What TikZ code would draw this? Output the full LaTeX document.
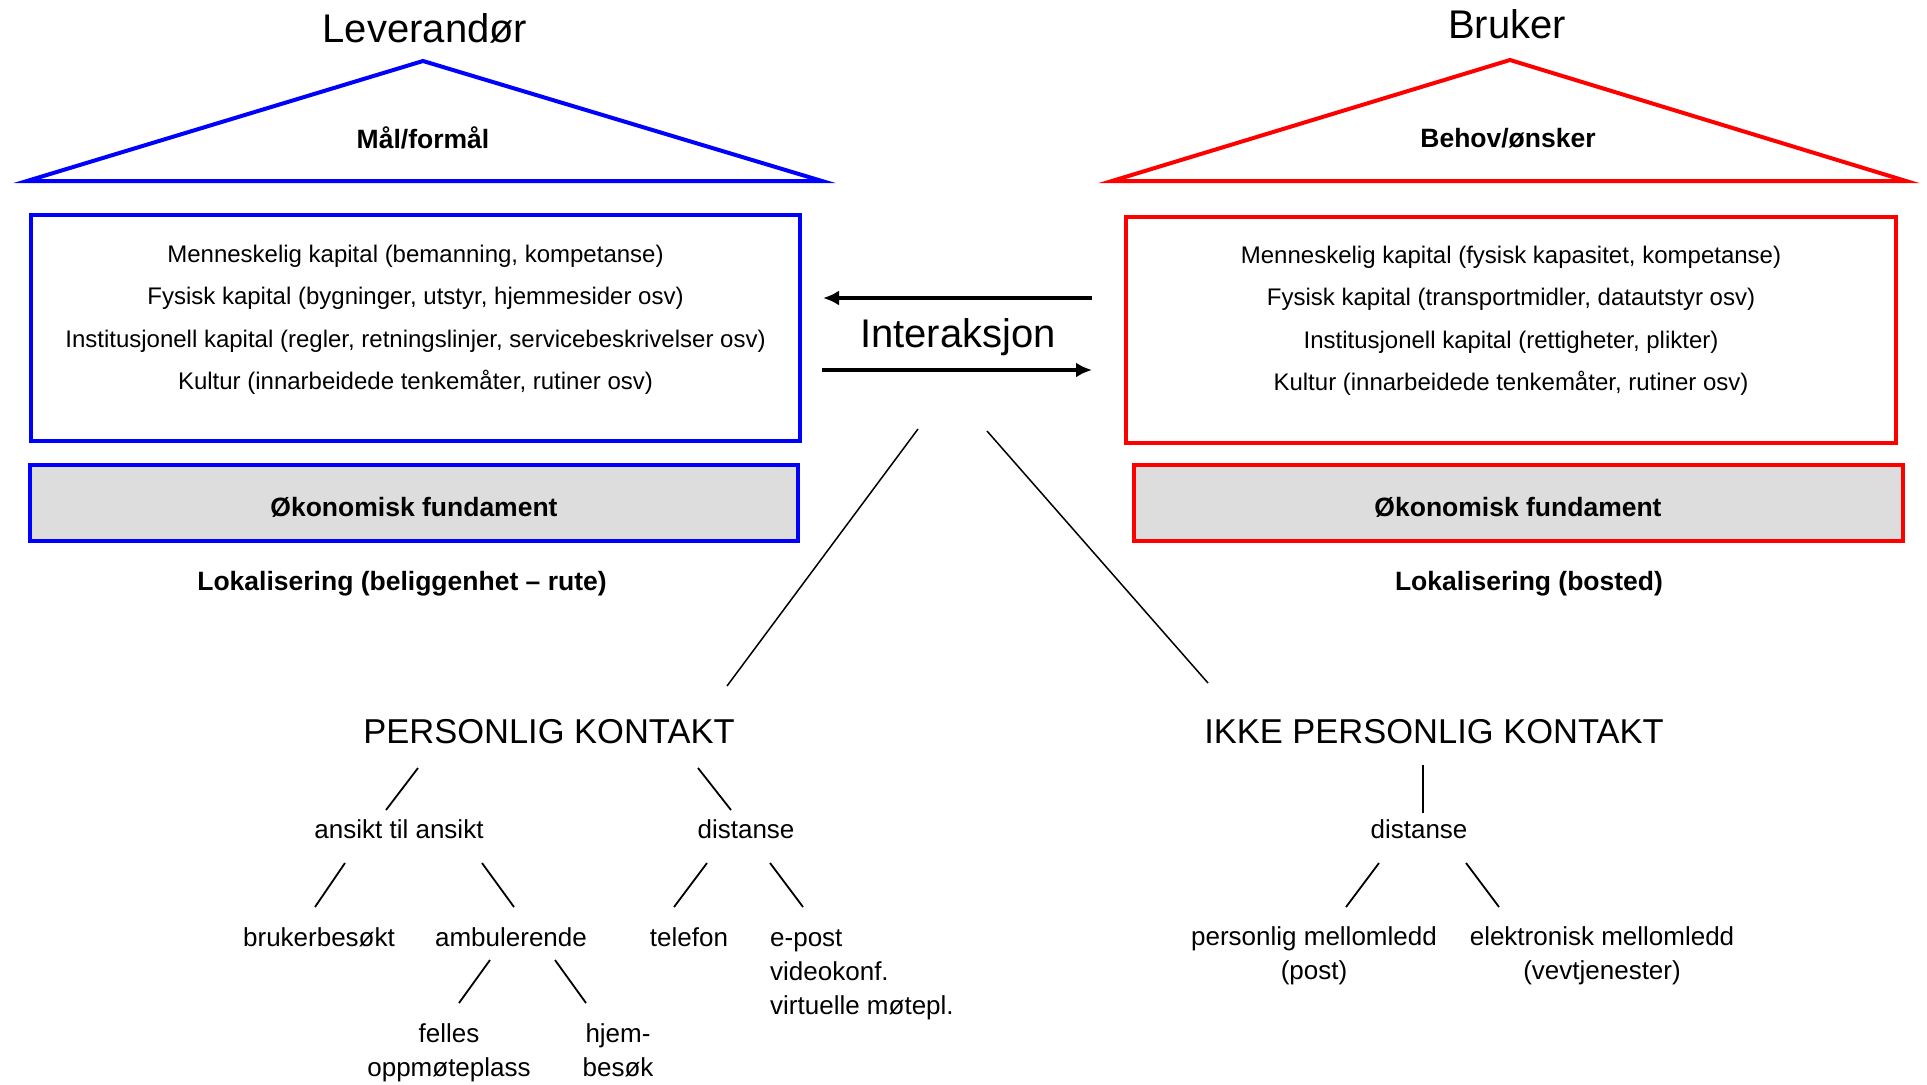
\documentclass[tikz,border=0pt]{standalone}
\usepackage{fontspec}
\setmainfont{Liberation Sans}
\usetikzlibrary{arrows.meta}
\definecolor{levblue}{RGB}{0,0,255}
\definecolor{brured}{RGB}{255,0,0}
\definecolor{fundgrey}{RGB}{221,221,221}
\newcommand{\mlc}[1]{\begin{tabular}[t]{@{}c@{}}#1\end{tabular}}
\newcommand{\mll}[1]{\begin{tabular}[t]{@{}l@{}}#1\end{tabular}}
\begin{document}
\begin{tikzpicture}[x=1pt,y=-1pt,
  txt/.style={inner sep=0pt, anchor=base},
  title/.style={txt, font=\fontsize{40}{48}\selectfont},
  boldlbl/.style={txt, font=\fontsize{26.5}{32}\selectfont\bfseries},
  boxtxt/.style={txt, font=\fontsize{24}{42.5}\selectfont},
  head/.style={txt, font=\fontsize{34.5}{40}\selectfont},
  leaf/.style={txt, font=\fontsize{26}{34}\selectfont},
  roof/.style={line width=4pt, line join=miter},
  capbox/.style={draw, line width=3.5pt, inner sep=0pt},
  fundbox/.style={capbox, fill=fundgrey},
  arrowline/.style={line width=3.5pt, -{Latex[length=16pt,width=15pt]}},
  branch/.style={line width=1.8pt},
  longbranch/.style={line width=1.5pt}
]
\useasboundingbox (0,0) rectangle (1927,1084);

% ---------- Leverandør side ----------
\node[title] (lev) at (425,42) {Leverandør};
\coordinate (lroofL) at (27,181);
\coordinate (lroofT) at (423,61);
\coordinate (lroofR) at (822,181);
\draw[roof, levblue] (lroofL) -- (lroofT) -- (lroofR) -- cycle;
\node[boldlbl] (lmaal) at (423,148) {Mål/formål};
\node[capbox, draw=levblue, minimum width=769pt, minimum height=226pt] (lbox) at (415.5,328) {};
\node[boxtxt] (ltext) at (415.5,262) {\mlc{Menneskelig kapital (bemanning, kompetanse)\\
Fysisk kapital (bygninger, utstyr, hjemmesider osv)\\
Institusjonell kapital (regler, retningslinjer, servicebeskrivelser osv)\\
Kultur (innarbeidede tenkemåter, rutiner osv)}};
\node[fundbox, draw=levblue, minimum width=768pt, minimum height=76pt] (lfund) at (414,503) {};
\node[boldlbl] (lfundt) at (414,516) {Økonomisk fundament};
\node[boldlbl] (lloc) at (402,590) {Lokalisering (beliggenhet – rute)};

% ---------- Bruker side ----------
\node[title] (bru) at (1507,38) {Bruker};
\coordinate (rroofL) at (1112,181);
\coordinate (rroofT) at (1510,60);
\coordinate (rroofR) at (1906,181);
\draw[roof, brured] (rroofL) -- (rroofT) -- (rroofR) -- cycle;
\node[boldlbl] (rbehov) at (1508,147) {Behov/ønsker};
\node[capbox, draw=brured, minimum width=770pt, minimum height=226pt] (rbox) at (1511,330) {};
\node[boxtxt] (rtext) at (1511,263) {\mlc{Menneskelig kapital (fysisk kapasitet, kompetanse)\\
Fysisk kapital (transportmidler, datautstyr osv)\\
Institusjonell kapital (rettigheter, plikter)\\
Kultur (innarbeidede tenkemåter, rutiner osv)}};
\node[fundbox, draw=brured, minimum width=769pt, minimum height=76pt] (rfund) at (1518.5,503) {};
\node[boldlbl] (rfundt) at (1518,516) {Økonomisk fundament};
\node[boldlbl] (rloc) at (1529,590) {Lokalisering (bosted)};

% ---------- Interaksjon ----------
\node[title] (inter) at (958,347) {Interaksjon};
\coordinate (arTopS) at (1092,298);
\coordinate (arTopE) at (823,298);
\coordinate (arBotS) at (822,370);
\coordinate (arBotE) at (1092,370);
\draw[arrowline] (arTopS) -- (arTopE);
\draw[arrowline] (arBotS) -- (arBotE);

\coordinate (dlA) at (918,429);
\coordinate (dlB) at (727,686);
\coordinate (drA) at (987,431);
\coordinate (drB) at (1208,683);
\draw[longbranch] (dlA) -- (dlB);
\draw[longbranch] (drA) -- (drB);

% ---------- Personlig kontakt tree ----------
\node[head] (pk) at (549,743) {PERSONLIG KONTAKT};
\node[leaf] (att) at (399,838) {ansikt til ansikt};
\node[leaf] (dist) at (746,838) {distanse};
\node[leaf] (bb) at (319,946) {brukerbesøkt};
\node[leaf] (amb) at (511,946) {ambulerende};
\node[leaf] (tel) at (689,946) {telefon};
\node[leaf, anchor=base west] (epost) at (770,946) {\mll{e-post\\videokonf.\\virtuelle møtepl.}};
\node[leaf] (felles) at (449,1042) {\mlc{felles\\oppmøteplass}};
\node[leaf] (hjem) at (618,1042) {\mlc{hjem-\\besøk}};

\coordinate (pk1a) at (418,768); \coordinate (pk1b) at (386,810);
\coordinate (pk2a) at (698,768); \coordinate (pk2b) at (731,810);
\coordinate (at1a) at (345,863); \coordinate (at1b) at (315,907);
\coordinate (at2a) at (482,863); \coordinate (at2b) at (514,907);
\coordinate (di1a) at (707,863); \coordinate (di1b) at (674,907);
\coordinate (di2a) at (770,863); \coordinate (di2b) at (803,907);
\coordinate (am1a) at (490,960); \coordinate (am1b) at (459,1003);
\coordinate (am2a) at (555,960); \coordinate (am2b) at (586,1003);
\draw[branch] (pk1a) -- (pk1b);
\draw[branch] (pk2a) -- (pk2b);
\draw[branch] (at1a) -- (at1b);
\draw[branch] (at2a) -- (at2b);
\draw[branch] (di1a) -- (di1b);
\draw[branch] (di2a) -- (di2b);
\draw[branch] (am1a) -- (am1b);
\draw[branch] (am2a) -- (am2b);

% ---------- Ikke personlig kontakt tree ----------
\node[head] (ipk) at (1434,743) {IKKE PERSONLIG KONTAKT};
\node[leaf] (dist2) at (1419,838) {distanse};
\node[leaf] (pml) at (1314,945) {\mlc{personlig mellomledd\\(post)}};
\node[leaf] (eml) at (1602,945) {\mlc{elektronisk mellomledd\\(vevtjenester)}};
\coordinate (ip1a) at (1423,765); \coordinate (ip1b) at (1423,813);
\coordinate (d21a) at (1379,863); \coordinate (d21b) at (1346,907);
\coordinate (d22a) at (1466,863); \coordinate (d22b) at (1499,907);
\draw[branch] (ip1a) -- (ip1b);
\draw[branch] (d21a) -- (d21b);
\draw[branch] (d22a) -- (d22b);
\end{tikzpicture}
\end{document}
